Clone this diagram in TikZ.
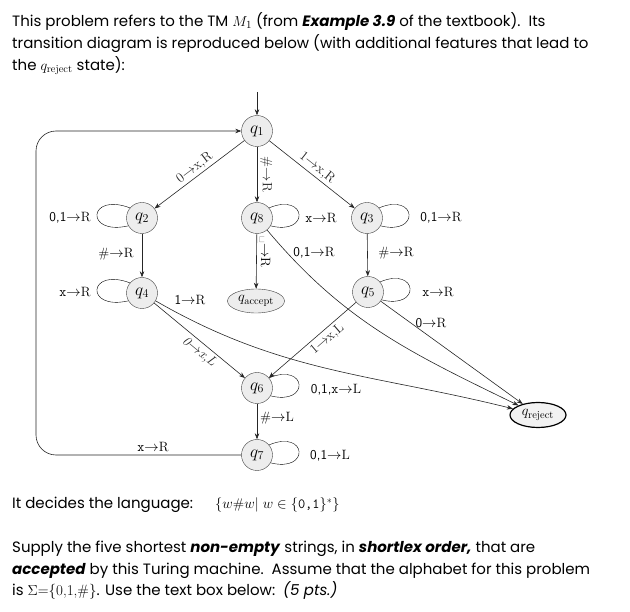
\documentclass[tikz,border=0pt]{standalone}
\usepackage{fontspec}
\setsansfont{Poppins}
\usetikzlibrary{arrows.meta,shapes.geometric}
\newcommand{\ra}{$\rightarrow$}
\newcommand{\ds}[1]{{\fontspec{Latin Modern Sans}#1}}
\begin{document}
\begin{tikzpicture}[x=1pt,y=1pt,
  st/.style={circle,draw=black!75,fill=black!7,minimum size=31pt,inner sep=0pt,font=\fontsize{17}{19}\selectfont},
  tr/.style={-{Stealth[length=6pt,width=4.5pt]},line width=0.6pt,black!85},
  lab/.style={font=\fontsize{13.5}{15}\selectfont,inner sep=0pt},
  body/.style={font=\sffamily\fontsize{15}{17}\selectfont,anchor=base west,inner sep=0pt}]
\useasboundingbox (0,0) rectangle (630,-612);
% text
\node[body] (t1) at (12,-26.5) {This problem refers to the TM $M_1$ (from \textbf{\textit{Example 3.9}} of the textbook).\ \ Its};
\node[body] (t2) at (12,-48.5) {transition diagram is reproduced below (with additional features that lead to};
\node[body] (t3) at (12,-70.5) {the $q_{\mathrm{reject}}$ state):};
\node[body] (t4) at (12,-509) {It decides the language:};
\node[anchor=base west,inner sep=0pt,font=\fontsize{14}{16}\selectfont] (t5) at (215,-509) {$\{w\#w|\;w\in\{\texttt{0,1}\}^*\}$};
\node[body] (t6) at (12,-552) {Supply the five shortest \textbf{\textit{non-empty}} strings, in \textbf{\textit{shortlex order,}} that are};
\node[body] (t7) at (12,-574) {\textbf{\textit{accepted}} by this Turing machine.\ \ Assume that the alphabet for this problem};
\node[body] (t8) at (12,-595) {is {\rmfamily$\Sigma$=\{0,1,\#\}}. Use the text box below:\ \ \textit{(5 pts.)}};
% states
\node[st] (q1) at (257,-131) {$q_1$};
\node[st] (q2) at (142,-218) {$q_2$};
\node[st] (q8) at (257,-218) {$q_8$};
\node[st] (q3) at (367,-218) {$q_3$};
\node[st] (q4) at (142,-293) {$q_4$};
\node[st] (q5) at (368,-292) {$q_5$};
\node[ellipse,draw=black!75,fill=black!7,minimum width=57pt,minimum height=24pt,inner sep=0pt,font=\fontsize{15}{17}\selectfont] (qa) at (256,-301) {$q_{\mathrm{accept}}$};
\node[st] (q6) at (257,-388) {$q_6$};
\node[st] (q7) at (257,-455) {$q_7$};
\node[ellipse,draw=black,line width=1.2pt,fill=black!5,minimum width=56pt,minimum height=25pt,inner sep=0pt,font=\fontsize{15}{17}\selectfont] (qr) at (538,-415) {$q_{\mathrm{reject}}$};
\coordinate (in) at (257,-92);
\coordinate (c1) at (36,-455);
\coordinate (c2) at (36,-131);
\tikzset{
  rloop/.style={tr,to path={(\tikztostart.40) .. controls +(38pt,16pt) and +(40pt,-10pt) .. (\tikztostart.-30)}},
  lloop/.style={tr,to path={(\tikztostart.140) .. controls +(-42pt,16pt) and +(-44pt,-10pt) .. (\tikztostart.210)}}}
% edges
\draw[tr] (in) -- (q1);
\draw[tr] (q1) -- node[lab,sloped,above=2pt] {0\ra x,R} (q2);
\draw[tr] (q1) -- node[lab,right=3pt,rotate=-90,anchor=south] {\#\ra R} (q8);
\draw[tr] (q1) -- node[lab,sloped,above=2pt] {1\ra x,R} (q3);
\draw (q2) to[lloop] (q2);
\node[lab] (l1) at (70,-218) {\ds{0,1}\ra R};
\draw (q8) to[rloop] (q8);
\node[lab] (l2) at (321,-218) {\texttt{x}\ra R};
\draw (q3) to[rloop] (q3);
\node[lab] (l3) at (441,-218) {\ds{0,1}\ra R};
\draw[tr] (q2) -- (q4);
\node[lab] (l4) at (116,-254) {\#\ra R};
\draw[tr] (q8) -- (qa);
\node[lab,rotate=-90] (l5) at (265,-252) {\textvisiblespace\ra R};
\draw[tr] (q3) -- (q5);
\node[lab] (l6) at (396,-253) {\#\ra R};
\draw[tr] (q8) to[out=-50,in=154] (qr);
\node[lab] (l7) at (314,-253) {\ds{0,1}\ra R};
\draw (q4) to[lloop] (q4);
\node[lab] (l8) at (75,-292) {\texttt{x}\ra R};
\draw (q5) to[rloop] (q5);
\node[lab] (l9) at (438,-292) {\texttt{x}\ra R};
\draw[tr] (q4) to[out=-30,in=166] (qr);
\node[lab] (l10) at (190,-300) {\ds{1}\ra R};
\draw[tr] (q4) -- node[lab,sloped,below=3pt,pos=0.56] {\textit{0\ra x,L}} (q6);
\draw[tr] (q5) -- node[lab,sloped,below=3pt,pos=0.4] {1\ra x,L} (q6);
\draw[tr] (q5) -- (qr);
\node[lab] (l11) at (431,-323) {\ds{0}\ra R};
\draw (q6) to[rloop] (q6);
\node[lab] (l12) at (336,-390) {\ds{0,1,}\texttt{x}\ra L};
\draw[tr] (q6) -- (q7);
\node[lab] (l13) at (277,-418) {\#\ra L};
\draw (q7) to[rloop] (q7);
\node[lab] (l14) at (330,-456) {\ds{0,1}\ra L};
\draw[tr,rounded corners=20pt] (q7) -- (c1) -- (c2) -- (q1);
\node[lab] (l15) at (153,-447) {\texttt{x}\ra R};
\end{tikzpicture}
\end{document}
